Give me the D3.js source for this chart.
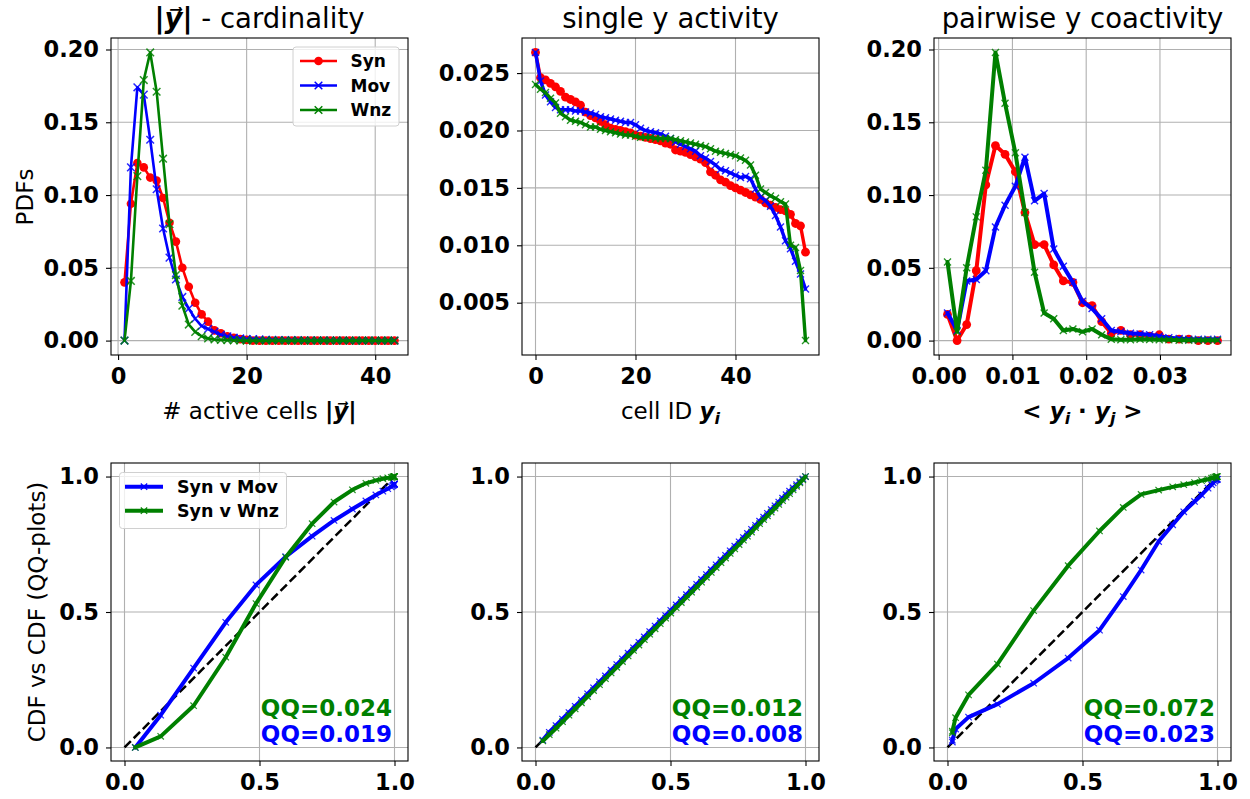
<!DOCTYPE html>
<html><head><meta charset="utf-8">
<script src="https://cdn.jsdelivr.net/npm/d3@7"></script>
<style>
html,body{margin:0;padding:0;background:#fff;}
svg{display:block;font-family:"DejaVu Sans",sans-serif;}
</style></head><body>
<svg id="chart" width="1250" height="799"></svg>
<script>
// ---------- DATA ----------
const seriesNames = ["Syn", "Mov", "Wnz"];
const qqNames = ["Syn v Mov", "Syn v Wnz"];

// Panel 1: cardinality PDFs
const cardX = [1,2,3,4,5,6,7,8,9,10,11,12,13,14,15,16,17,18,19,20,21,22,23,24,25,26,27,28,29,30,31,32,33,34,35,36,37,38,39,40,41,42,43];
const cardSyn = [0.040,0.094,0.122,0.119,0.112,0.110,0.098,0.081,0.068,0.050,0.037,0.026,0.018,0.013,0.007,0.005,0.003,0.002,0.001,0.0005,0,0,0,0,0,0,0,0,0,0,0,0,0,0,0,0,0,0,0,0,0,0,0];
const cardMov = [0.000,0.119,0.174,0.169,0.138,0.104,0.077,0.057,0.042,0.030,0.022,0.015,0.010,0.008,0.006,0.004,0.003,0.002,0.0015,0.001,0.001,0.0008,0.0006,0.0005,0.0004,0.0004,0.0003,0.0003,0.0002,0.0002,0.0002,0.0001,0.0001,0.0001,0.0001,0,0,0,0,0,0,0,0];
const cardWnz = [0.000,0.041,0.113,0.179,0.198,0.171,0.125,0.080,0.045,0.024,0.011,0.006,0.003,0.0015,0.0008,0.0005,0.0003,0.0002,0.0001,0,0,0,0,0,0,0,0,0,0,0,0,0,0,0,0,0,0,0,0,0,0,0,0];

// Panel 2: single y activity
const cellX = [0,1,2,3,4,5,6,7,8,9,10,11,12,13,14,15,16,17,18,19,20,21,22,23,24,25,26,27,28,29,30,31,32,33,34,35,36,37,38,39,40,41,42,43,44,45,46,47,48,49,50,51,52,53,54];
const cellSyn = [0.0268,0.0246,0.0244,0.0241,0.0238,0.0234,0.0229,0.0227,0.0225,0.0222,0.0216,0.0213,0.0211,0.0208,0.0205,0.0202,0.0201,0.0200,0.0199,0.0198,0.0196,0.0195,0.0194,0.0193,0.0192,0.0191,0.0189,0.0188,0.0183,0.0182,0.0181,0.0179,0.0177,0.0175,0.0172,0.0164,0.0161,0.0157,0.0155,0.0152,0.0150,0.0148,0.0146,0.0144,0.0142,0.0140,0.0137,0.0135,0.0133,0.0131,0.0130,0.0127,0.0119,0.0117,0.0094];
const cellMov = [0.0268,0.0243,0.0231,0.0225,0.0220,0.0218,0.0218,0.0218,0.0217,0.0217,0.0216,0.0215,0.0214,0.0212,0.0211,0.0210,0.0209,0.0208,0.0207,0.0207,0.0205,0.0202,0.0200,0.0199,0.0198,0.0197,0.0195,0.0193,0.0190,0.0188,0.0186,0.0184,0.0182,0.0178,0.0176,0.0173,0.0170,0.0166,0.0165,0.0163,0.0161,0.0159,0.0160,0.0158,0.0149,0.0142,0.0139,0.0134,0.0126,0.0116,0.0104,0.0097,0.0086,0.0075,0.0062];
const cellWnz = [0.0240,0.0236,0.0233,0.0228,0.0224,0.0215,0.0212,0.0209,0.0208,0.0207,0.0205,0.0203,0.0203,0.0201,0.0200,0.0199,0.0198,0.0197,0.0196,0.0196,0.0195,0.0194,0.0194,0.0194,0.0193,0.0193,0.0193,0.0193,0.0192,0.0191,0.0190,0.0189,0.0188,0.0187,0.0186,0.0184,0.0182,0.0181,0.0180,0.0179,0.0178,0.0176,0.0174,0.0170,0.0161,0.0149,0.0146,0.0143,0.0141,0.0138,0.0136,0.0100,0.0098,0.0078,0.0017];

// Panel 3: pairwise coactivity
const pairX = [0.0012,0.0025,0.0038,0.0051,0.0064,0.0077,0.0090,0.0104,0.0117,0.0130,0.0143,0.0156,0.0169,0.0182,0.0195,0.0208,0.0221,0.0234,0.0247,0.0260,0.0273,0.0286,0.0299,0.0312,0.0326,0.0339,0.0352,0.0365,0.0378];
const pairSyn = [0.018,0.000,0.011,0.048,0.107,0.134,0.128,0.116,0.088,0.066,0.066,0.052,0.041,0.040,0.026,0.024,0.013,0.005,0.007,0.004,0.004,0.003,0.004,0.001,0.001,0.001,0.000,0.000,0.000];
const pairMov = [0.019,0.007,0.041,0.042,0.048,0.078,0.093,0.106,0.126,0.096,0.101,0.063,0.051,0.040,0.027,0.022,0.015,0.007,0.006,0.005,0.0045,0.004,0.003,0.002,0.0015,0.001,0.001,0.001,0.001];
const pairWnz = [0.054,0.006,0.050,0.085,0.117,0.198,0.163,0.129,0.088,0.047,0.019,0.015,0.007,0.008,0.006,0.008,0.004,0.001,0.0005,0.0005,0.001,0.0008,0.0005,0.0005,0.0003,0.0003,0.0002,0.0002,0.0002];

// Panel 4: QQ cardinality
const qqCardX   = [0.040,0.134,0.256,0.375,0.487,0.597,0.695,0.776,0.844,0.894,0.931,0.957,0.975,0.988,0.993,0.996,0.998,0.999,1.000,1.000,1.000];
const qqCardMov = [0.000,0.119,0.293,0.462,0.600,0.704,0.780,0.838,0.880,0.910,0.932,0.946,0.955,0.962,0.966,0.968,0.970,0.971,0.972,0.972,0.973];
const qqCardWnz = [0.000,0.041,0.154,0.333,0.531,0.702,0.826,0.906,0.951,0.975,0.986,0.992,0.995,0.997,0.998,0.999,1.000,1.000,1.000,1.000,1.000];

// Panel 5: QQ single activity
const qqCellX   = [0.027,0.051,0.076,0.100,0.124,0.147,0.170,0.193,0.215,0.237,0.259,0.280,0.301,0.322,0.343,0.363,0.383,0.403,0.423,0.443,0.462,0.482,0.501,0.521,0.540,0.559,0.578,0.597,0.615,0.633,0.651,0.669,0.687,0.704,0.721,0.738,0.754,0.770,0.785,0.800,0.815,0.830,0.845,0.859,0.873,0.887,0.901,0.915,0.928,0.941,0.954,0.967,0.979,0.990,1.000];
const qqCellMov = [0.027,0.056,0.081,0.105,0.129,0.152,0.175,0.198,0.220,0.242,0.264,0.285,0.306,0.327,0.348,0.368,0.388,0.408,0.428,0.448,0.467,0.487,0.506,0.526,0.545,0.564,0.583,0.602,0.620,0.638,0.656,0.674,0.692,0.709,0.726,0.743,0.759,0.775,0.790,0.805,0.820,0.835,0.850,0.864,0.878,0.892,0.906,0.920,0.933,0.946,0.958,0.970,0.981,0.991,1.000];
const qqCellWnz = [0.024,0.047,0.071,0.095,0.119,0.142,0.165,0.188,0.210,0.232,0.254,0.275,0.296,0.317,0.338,0.358,0.378,0.398,0.418,0.438,0.457,0.477,0.496,0.516,0.535,0.554,0.573,0.592,0.610,0.628,0.646,0.664,0.682,0.699,0.716,0.733,0.749,0.765,0.780,0.795,0.811,0.826,0.841,0.855,0.869,0.883,0.897,0.911,0.924,0.937,0.951,0.964,0.977,0.988,1.000];

// Panel 6: QQ pairwise
const qqPairX   = [0.018,0.018,0.030,0.078,0.185,0.319,0.447,0.563,0.651,0.717,0.782,0.834,0.875,0.915,0.941,0.965,0.978,0.984,0.990,0.994,0.996,0.998,1.000];
const qqPairMov = [0.020,0.027,0.068,0.112,0.160,0.237,0.330,0.433,0.557,0.655,0.760,0.822,0.870,0.908,0.932,0.957,0.970,0.977,0.983,0.987,0.989,0.990,0.990];
const qqPairWnz = [0.054,0.060,0.110,0.194,0.308,0.505,0.671,0.799,0.886,0.934,0.950,0.962,0.970,0.978,0.985,0.990,0.994,0.996,0.998,0.999,1.000,1.000,1.000];

const qqScoresWnz = ["QQ=0.024", "QQ=0.012", "QQ=0.072"];
const qqScoresMov = ["QQ=0.019", "QQ=0.008", "QQ=0.023"];

// tick values
const cardXTicks = [0, 20, 40];
const cellXTicks = [0, 20, 40];
const pdfYTicks = [0.00, 0.05, 0.10, 0.15, 0.20];
const cellYTicks = [0.005, 0.010, 0.015, 0.020, 0.025];
const pairXTicks = [0.00, 0.01, 0.02, 0.03];
const qqTicks = [0.0, 0.5, 1.0];

// ---------- DRAWING ----------
const svg = d3.select("#chart");
const FONT = "DejaVu Sans";
const COLORS = {Syn: "#ff0000", Mov: "#0000ff", Wnz: "#008000"};
const COLS = [111, 522, 934], PW = 297;
const ROWS = [{top: 38, bottom: 355}, {top: 463, bottom: 761}];

function padExt(arrs) {
  const all = [].concat(...arrs);
  const e = d3.extent(all), d = (e[1] - e[0]) * 0.05;
  return [e[0] - d, e[1] + d];
}

function panel(col, row, xDom, yDom, xTicks, yTicks, xFmt, yFmt) {
  const left = COLS[col], right = left + PW, top = ROWS[row].top, bottom = ROWS[row].bottom;
  const x = d3.scaleLinear().domain(xDom).range([left, right]);
  const y = d3.scaleLinear().domain(yDom).range([bottom, top]);
  const g = svg.append("g");
  g.append("rect").attr("x", left).attr("y", top).attr("width", PW).attr("height", bottom - top).attr("fill", "#fff");
  g.append("g").selectAll("line").data(xTicks).join("line")
    .attr("x1", d => x(d)).attr("x2", d => x(d)).attr("y1", top).attr("y2", bottom)
    .attr("stroke", "#b0b0b0").attr("stroke-width", 1.1);
  g.append("g").selectAll("line").data(yTicks).join("line")
    .attr("y1", d => y(d)).attr("y2", d => y(d)).attr("x1", left).attr("x2", right)
    .attr("stroke", "#b0b0b0").attr("stroke-width", 1.1);
  const xa = g.append("g").attr("transform", `translate(0,${bottom})`)
    .call(d3.axisBottom(x).tickValues(xTicks).tickFormat(xFmt).tickSize(5).tickPadding(8).tickSizeOuter(0));
  const ya = g.append("g").attr("transform", `translate(${left},0)`)
    .call(d3.axisLeft(y).tickValues(yTicks).tickFormat(yFmt).tickSize(5).tickPadding(7).tickSizeOuter(0));
  [xa, ya].forEach(a => {
    a.select(".domain").remove();
    a.selectAll("text").attr("font-size", 22.5).attr("font-weight", "bold").attr("fill", "#000").attr("font-family", FONT);
    a.selectAll("line").attr("stroke", "#000").attr("stroke-width", 1.1);
  });
  const plot = g.append("g");
  return {
    x, y, plot, left, right, top, bottom,
    frame() {
      g.append("rect").attr("x", left).attr("y", top).attr("width", PW).attr("height", bottom - top)
        .attr("fill", "none").attr("stroke", "#000").attr("stroke-width", 1.1);
    }
  };
}

function xPath(s) { return `M${-s},${-s}L${s},${s}M${-s},${s}L${s},${-s}`; }

function drawSeries(p, xs, ys, color, lw, marker, ms, mlw) {
  const pts = xs.map((v, i) => [v, ys[i]]);
  const line = d3.line().x(d => p.x(d[0])).y(d => p.y(d[1]));
  p.plot.append("path").attr("d", line(pts)).attr("fill", "none").attr("stroke", color)
    .attr("stroke-width", lw).attr("stroke-linejoin", "round").attr("stroke-linecap", "round");
  const mg = p.plot.append("g");
  if (marker === "o") {
    mg.selectAll("circle").data(pts).join("circle")
      .attr("cx", d => p.x(d[0])).attr("cy", d => p.y(d[1])).attr("r", ms).attr("fill", color);
  } else {
    mg.selectAll("path").data(pts).join("path")
      .attr("transform", d => `translate(${p.x(d[0])},${p.y(d[1])})`)
      .attr("d", xPath(ms)).attr("fill", "none").attr("stroke", color).attr("stroke-width", mlw).attr("opacity", 0.85);
  }
}

function title(p, build) {
  const t = svg.append("text").attr("x", (p.left + p.right) / 2).attr("y", 28)
    .attr("text-anchor", "middle").attr("font-size", 27.5).attr("font-family", FONT).attr("fill", "#000");
  build(t);
}

function xlabel(p, build) {
  const t = svg.append("text").attr("x", (p.left + p.right) / 2).attr("y", 419)
    .attr("text-anchor", "middle").attr("font-size", 23).attr("font-family", FONT).attr("fill", "#000");
  build(t);
}

function ylabel(xb, yc, txt) {
  svg.append("text").attr("transform", `translate(${xb},${yc}) rotate(-90)`)
    .attr("text-anchor", "middle").attr("font-size", 23).attr("font-family", FONT).attr("fill", "#000").text(txt);
}

function qqText(p, i) {
  svg.append("text").attr("x", p.right - 16).attr("y", 716).attr("text-anchor", "end")
    .attr("font-size", 23).attr("font-weight", "bold").attr("font-family", FONT).attr("fill", COLORS.Wnz).text(qqScoresWnz[i]);
  svg.append("text").attr("x", p.right - 16).attr("y", 742).attr("text-anchor", "end")
    .attr("font-size", 23).attr("font-weight", "bold").attr("font-family", FONT).attr("fill", COLORS.Mov).text(qqScoresMov[i]);
}

function diag(p) {
  p.plot.append("path").attr("d", d3.line().x(d => p.x(d)).y(d => p.y(d))([0, 1]))
    .attr("stroke", "#000").attr("stroke-width", 2.5).attr("stroke-dasharray", "9,4").attr("fill", "none");
}

const f2 = d3.format(".2f"), f3 = d3.format(".3f"), f1 = d3.format(".1f"), fd = d3.format("d");

// ---- Panel 1
const p1 = panel(0, 0, padExt([cardX]), padExt([cardSyn, cardMov, cardWnz]), cardXTicks, pdfYTicks, fd, f2);
drawSeries(p1, cardX, cardSyn, COLORS.Syn, 2.6, "o", 4.3);
drawSeries(p1, cardX, cardMov, COLORS.Mov, 2.6, "x", 3.8, 1.5);
drawSeries(p1, cardX, cardWnz, COLORS.Wnz, 2.6, "x", 3.8, 1.5);
p1.frame();
// legend
(function () {
  const lg = svg.append("g");
  lg.append("rect").attr("x", 293).attr("y", 47).attr("width", 106).attr("height", 79).attr("rx", 3)
    .attr("fill", "#fff").attr("fill-opacity", 0.8).attr("stroke", "#d0d0d0").attr("stroke-width", 1);
  const ys = [61, 85.5, 110];
  const cfg = [["o", 4.3], ["x", 3.8], ["x", 3.8]];
  seriesNames.forEach((n, i) => {
    lg.append("line").attr("x1", 300).attr("x2", 337).attr("y1", ys[i]).attr("y2", ys[i]).attr("stroke", COLORS[n]).attr("stroke-width", 2.6);
    if (cfg[i][0] === "o") lg.append("circle").attr("cx", 318.5).attr("cy", ys[i]).attr("r", 4.3).attr("fill", COLORS[n]);
    else lg.append("path").attr("transform", `translate(318.5,${ys[i]})`).attr("d", xPath(3.8)).attr("stroke", COLORS[n]).attr("stroke-width", 1.5).attr("fill", "none");
    lg.append("text").attr("x", 350.5).attr("y", ys[i] + 6).attr("font-size", 17).attr("font-weight", "bold").attr("font-family", FONT).text(n);
  });
})();
title(p1, t => {
  t.append("tspan").attr("font-weight", "bold").text("|");
  t.append("tspan").attr("font-weight", "bold").attr("font-style", "italic").text("y\u20D7");
  t.append("tspan").attr("font-weight", "bold").text("|");
  t.append("tspan").text(" - cardinality");
});
xlabel(p1, t => {
  t.append("tspan").text("# active cells ");
  t.append("tspan").attr("font-weight", "bold").text("|");
  t.append("tspan").attr("font-weight", "bold").attr("font-style", "italic").text("y\u20D7");
  t.append("tspan").attr("font-weight", "bold").text("|");
});
ylabel(32.5, 197, "PDFs");

// ---- Panel 2
const p2 = panel(1, 0, padExt([cellX]), padExt([cellSyn, cellMov, cellWnz]), cellXTicks, cellYTicks, fd, f3);
drawSeries(p2, cellX, cellSyn, COLORS.Syn, 3.4, "o", 4.4);
drawSeries(p2, cellX, cellMov, COLORS.Mov, 3.4, "x", 3.5, 1.4);
drawSeries(p2, cellX, cellWnz, COLORS.Wnz, 3.4, "x", 3.5, 1.4);
p2.frame();
title(p2, t => t.text("single y activity"));
xlabel(p2, t => {
  t.append("tspan").text("cell ID ");
  t.append("tspan").attr("font-weight", "bold").attr("font-style", "italic").text("y");
  t.append("tspan").attr("font-weight", "bold").attr("font-style", "italic").attr("font-size", 16).attr("dy", 5).text("i");
});

// ---- Panel 3
const p3 = panel(2, 0, padExt([pairX]), padExt([pairSyn, pairMov, pairWnz]), pairXTicks, pdfYTicks, f2, f2);
drawSeries(p3, pairX, pairSyn, COLORS.Syn, 4, "o", 4.4);
drawSeries(p3, pairX, pairMov, COLORS.Mov, 4, "x", 3.5, 1.4);
drawSeries(p3, pairX, pairWnz, COLORS.Wnz, 4, "x", 3.5, 1.4);
p3.frame();
title(p3, t => t.text("pairwise y coactivity"));
xlabel(p3, t => {
  t.attr("font-weight", "bold");
  t.append("tspan").text("< ");
  t.append("tspan").attr("font-style", "italic").text("y");
  t.append("tspan").attr("font-style", "italic").attr("font-size", 16).attr("dy", 5).text("i");
  t.append("tspan").attr("dy", -5).text(" \u00B7 ");
  t.append("tspan").attr("font-style", "italic").text("y");
  t.append("tspan").attr("font-style", "italic").attr("font-size", 16).attr("dy", 5).text("j");
  t.append("tspan").attr("dy", -5).text(" >");
});

// ---- Bottom row
const qqDom = [-0.05, 1.05];
const qqPanels = [
  [qqCardX, qqCardMov, qqCardWnz],
  [qqCellX, qqCellMov, qqCellWnz],
  [qqPairX, qqPairMov, qqPairWnz]
];
qqPanels.forEach((d, i) => {
  const p = panel(i, 1, qqDom, qqDom, qqTicks, qqTicks, f1, f1);
  diag(p);
  drawSeries(p, d[0], d[1], COLORS.Mov, 4, "x", 3.2, 1.2);
  drawSeries(p, d[0], d[2], COLORS.Wnz, 4, "x", 3.2, 1.2);
  p.frame();
  qqText(p, i);
});
ylabel(44.5, 612, "CDF vs CDF (QQ-plots)");

// bottom legend
(function () {
  const lg = svg.append("g");
  lg.append("rect").attr("x", 119.5).attr("y", 472.5).attr("width", 167).attr("height", 56).attr("rx", 3)
    .attr("fill", "#fff").attr("fill-opacity", 0.8).attr("stroke", "#d0d0d0").attr("stroke-width", 1);
  const ys = [486.7, 510.7];
  [COLORS.Mov, COLORS.Wnz].forEach((c, i) => {
    lg.append("line").attr("x1", 125).attr("x2", 163).attr("y1", ys[i]).attr("y2", ys[i]).attr("stroke", c).attr("stroke-width", 4);
    lg.append("path").attr("transform", `translate(144,${ys[i]})`).attr("d", xPath(3.2)).attr("stroke", c).attr("stroke-width", 1.2).attr("fill", "none");
    lg.append("text").attr("x", 177).attr("y", ys[i] + 6).attr("font-size", 17.5).attr("font-weight", "bold").attr("font-family", FONT).text(qqNames[i]);
  });
})();
</script>
</body></html>
